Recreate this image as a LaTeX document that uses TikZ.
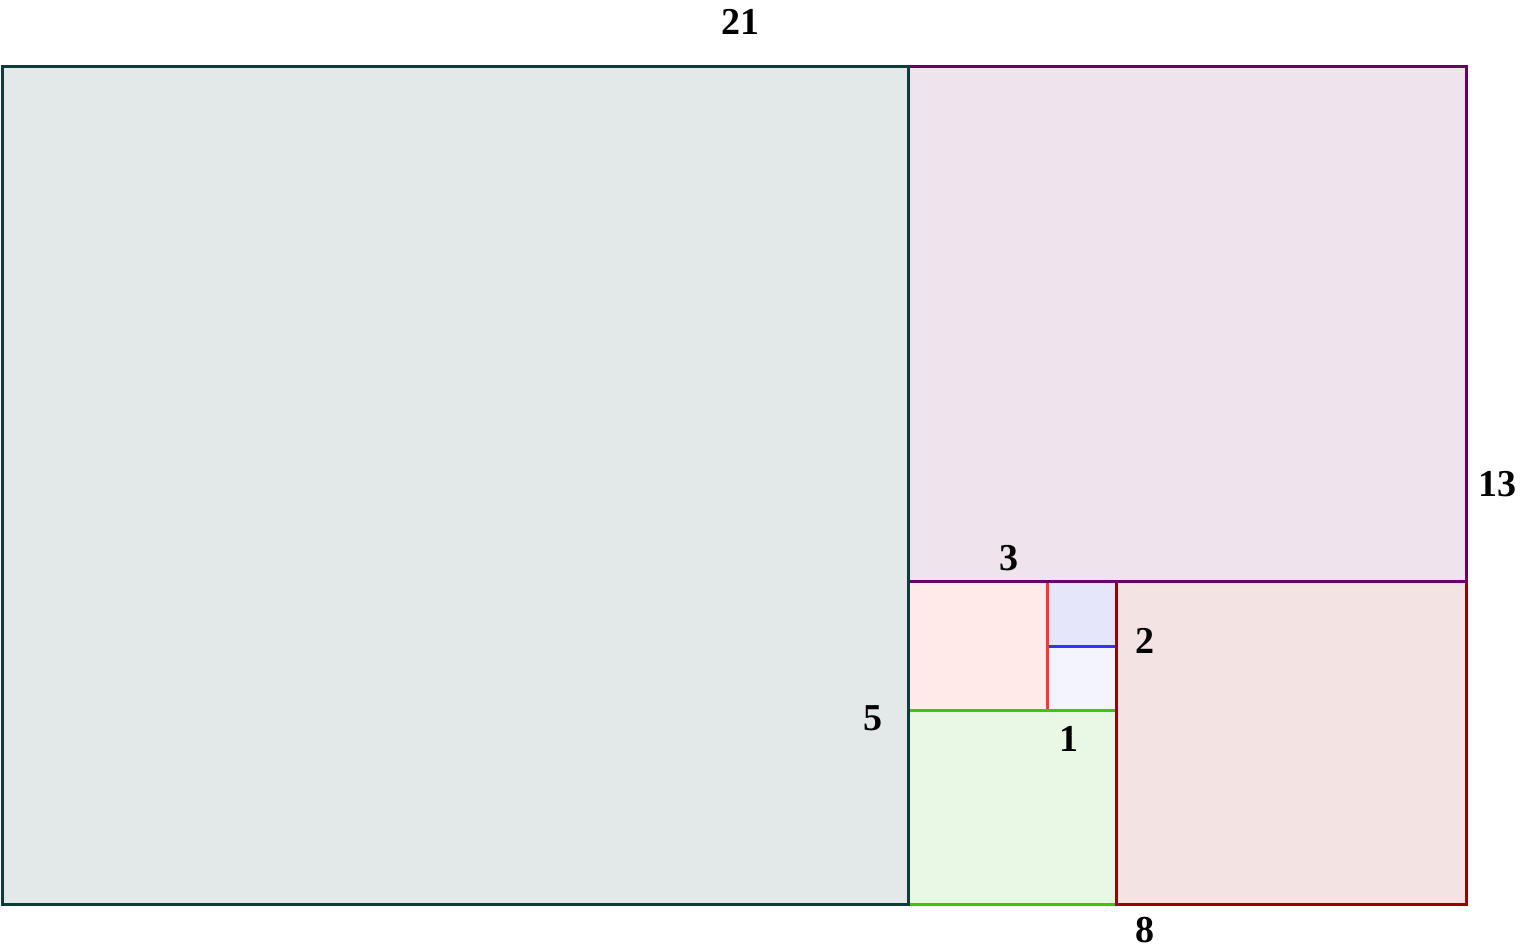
\documentclass[tikz,border=0pt]{standalone}
\usepackage{fontspec}
\setmainfont{Liberation Serif}
\definecolor{tealS}{HTML}{0E3C3C}\definecolor{tealF}{HTML}{E3E9E9}
\definecolor{purS}{HTML}{660066}\definecolor{purF}{HTML}{EFE3EE}
\definecolor{drS}{HTML}{990000}\definecolor{drF}{HTML}{F4E3E3}
\definecolor{grS}{HTML}{33CC00}\definecolor{grF}{HTML}{E9F8E4}
\definecolor{pkS}{HTML}{FF3333}\definecolor{pkF}{HTML}{FFE9E9}
\definecolor{blS}{HTML}{3333FF}\definecolor{blF}{HTML}{E6E6FA}\definecolor{blF2}{HTML}{F4F4FE}
\begin{document}
\begin{tikzpicture}[x=0.5pt,y=-0.5pt,
  sq/.style={line width=1.5pt},
  lbl/.style={font=\fontsize{19}{22}\selectfont\bfseries, inner sep=0pt}]
\useasboundingbox (0,0) rectangle (1522,951);
% 1x1 squares
\draw[sq, draw=blS, fill=blF] (1047,582) rectangle (1116,647);
\draw[sq, draw=blS, fill=blF2] (1047,647) rectangle (1116,711);
% 3
\draw[sq, draw=pkS, fill=pkF] (908,582) rectangle (1047,711);
% 5
\draw[sq, draw=grS, fill=grF] (908,711) rectangle (1116,905);
% 8
\draw[sq, draw=drS, fill=drF] (1116,582) rectangle (1466,905);
% 13
\draw[sq, draw=purS, fill=purF] (908,67) rectangle (1466,582);
% 21
\draw[sq, draw=tealS, fill=tealF] (2,67) rectangle (908,905);
% labels
\node[lbl] (l21) at (740,22) {21};
\node[lbl] (l13) at (1497,484) {13};
\node[lbl] (l3) at (1009,558) {3};
\node[lbl] (l2) at (1145,641) {2};
\node[lbl] (l5) at (873,718) {5};
\node[lbl] (l1) at (1069,739) {1};
\node[lbl] (l8) at (1145,930) {8};
\end{tikzpicture}
\end{document}
